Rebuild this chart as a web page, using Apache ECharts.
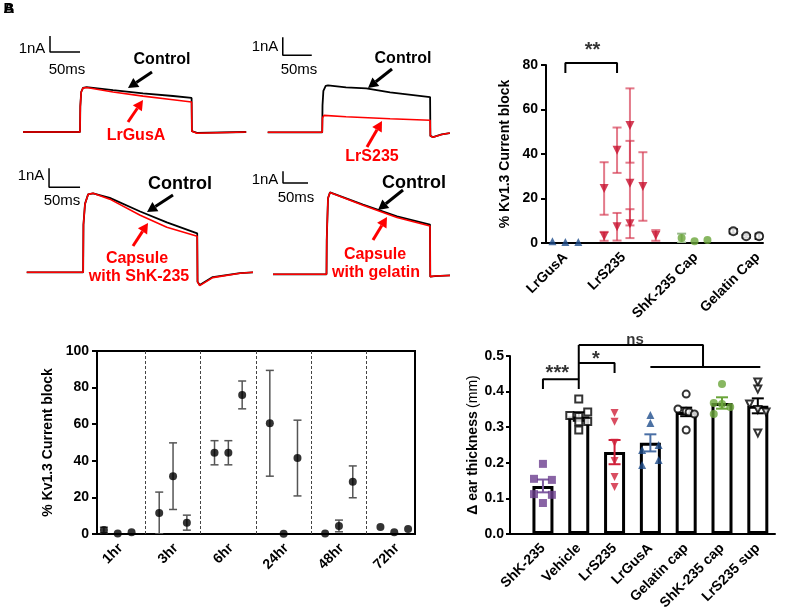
<!DOCTYPE html>
<html><head><meta charset="utf-8">
<script src="https://cdn.jsdelivr.net/npm/echarts@6/dist/echarts.min.js"></script>
<style>html,body{margin:0;padding:0;background:#fff}#c{width:788px;height:609px}</style>
</head><body><div id="c"></div>
<script>
const FONT = "'Liberation Sans', Arial, Helvetica, sans-serif";

// ---------- Panel A: Kv1.3 current traces (time in ms, current in nA) ----------
const traceLrGusA_control = [[0,0],[95,0],[95.5,1.6],[97,2.5],[100,2.76],[106,2.81],[150,2.62],[200,2.42],[250,2.25],[281,2.13],[281.5,0.05],[290,-0.05],[372,0]];
const traceLrGusA_treated = [[0,0],[95,0],[95.5,1.6],[97,2.5],[100,2.74],[106,2.78],[150,2.5],[200,2.24],[250,2.02],[281,1.88],[281.5,0.05],[290,-0.08],[372,0]];
const traceLrS235_control = [[65,0],[159,0],[159.5,1.5],[161,2.3],[165,2.58],[169,2.61],[200,2.5],[235,2.44],[276,2.22],[345,1.96],[345.5,-0.2],[350,-0.27],[365,-0.12],[379,-0.04]];
const traceLrS235_treated = [[65,0],[159,0],[159.5,0.8],[162,0.94],[200,0.86],[276,0.75],[345,0.67],[345.5,-0.2],[350,-0.27],[365,-0.12],[379,-0.04]];
const traceShKCap_control = [[6,0],[97,0],[97.5,2.5],[100,3.6],[105,4.1],[113,4.16],[140,3.92],[189,3.2],[232,2.63],[281,2.05],[281.5,-0.5],[285,-0.67],[306,-0.25],[350,-0.04],[371,0]];
const traceShKCap_treated = [[6,0],[97,0],[97.5,2.5],[100,3.6],[105,4.1],[113,4.16],[140,3.85],[189,3.0],[232,2.37],[281,1.9],[281.5,-0.5],[285,-0.7],[306,-0.28],[350,-0.05],[371,0]];
const traceGelCap_control = [[86,0],[193,0],[193.5,3],[196,6.5],[200,7.0],[266,5.95],[334,4.95],[400,4.25],[400.5,-0.2],[410,-0.15],[440,-0.1]];
const traceGelCap_treated = [[86,0],[193,0],[193.5,3],[196,6.5],[200,7.0],[266,5.9],[334,4.85],[400,4.12],[400.5,-0.2],[410,-0.15],[440,-0.1]];
const scaleBarMs = 50, scaleBarNA = 1;
const scaleBarOrigins = [[45,5.0],[91,4.28],[42,4.47],[106,7.8]];

// ---------- Panel: % Kv1.3 current block per clone ----------
const blockLabels = ['LrGusA','LrS235','ShK-235 Cap','Gelatin Cap'];
const blockLabelPos = [2, 6.5, 12.1, 16.9];
const blockLrGusA_x = [1,2,3];
const blockLrGusA = [0.8,0.4,0.4];
const blockLrS235_x = [5,5,6,6,7,7,7,8,9];
const blockLrS235 = [24.5,3,41.7,7.3,52.8,26.9,8.7,25.4,3.4];
const blockLrS235_err = [11.8,2,10.2,6.2,16.7,19,6.5,15.4,2.4];
const blockShKCap_x = [11,12,13];
const blockShKCap = [2.2,0.8,1.3];
const blockShKCap_err = [2,0,0];
const blockGelCap_x = [15,16,17];
const blockGelCap = [5.3,3,3];
const blockGelCap_err = [1,0.6,1.2];
const blockBracket = [[2,76.4],[2,80.9],[6,80.9],[6,76.4]];
const blockStars = [[4.1,86.5,'**']];

// ---------- Panel: % block over time ----------
const timeLabels = ['1hr','3hr','6hr','24hr','48hr','72hr'];
const timeLabelPos = [2.2,6.2,10.2,14.2,18.2,22.2];
const timeSeparators = [4,8,12,16,20];
const timeX = [1,2,3,5,6,7,9,10,11,13,14,15,17,18,19,21,22,23];
const timeBlock = [2.2,0.3,1,11.5,31.6,6.2,44.4,44.4,76,60.5,0.2,41.5,0.3,4.4,28.5,3.8,0.9,2.7];
const timeErr = [1.5,0,0,11.4,18.2,4.1,6.6,6.6,7.6,28.9,0,20.7,0,3.2,8.7,0,0,0];

// ---------- Panel: ear thickness ----------
const earGroups = ['ShK-235','Vehicle','LrS235','LrGusA','Gelatin cap','ShK-235 cap','LrS235 sup'];
const earMean = [0.135,0.33,0.23,0.256,0.343,0.368,0.36];
const earSem = [0.018,0.012,0.034,0.024,0.012,0.016,0.021];
const earPts = [
  [0.197,0.155,0.152,0.112,0.11,0.087],
  [0.379,0.343,0.333,0.33,0.315,0.316,0.292],
  [0.34,0.315,0.256,0.205,0.16,0.132],
  [0.334,0.312,0.25,0.236,0.208,0.194],
  [0.393,0.351,0.345,0.343,0.337,0.292],
  [0.421,0.368,0.365,0.357,0.337],
  [0.427,0.407,0.365,0.35,0.343,0.284]
];
const earJitter = [
  [0,-0.25,0.25,-0.25,0.25,0],
  [0,0.25,-0.25,0,0,0.25,0],
  [0,0,0,0,0,0],
  [0,0,0.23,-0.23,0.23,-0.23],
  [0,-0.23,0,0.08,0.23,0],
  [0,-0.23,0,0.23,-0.23],
  [0,0,-0.23,0,0.23,0]
];
const earBrackets = [
  [[1,0.407],[1,0.435],[2,0.435],[2,0.407]],
  [[2,0.435],[2,0.531]],
  [[2,0.48],[3,0.48],[3,0.452]],
  [[2,0.531],[5.47,0.531],[5.47,0.469]],
  [[4,0.469],[7.07,0.469]]
];
const earStars = [[1.4,0.452,'***'],[2.48,0.49,'*'],[3.57,0.545,'ns']];

// ---------- layout ----------
const RED = '#ff0000';
const traceBoxes = [
  {left:23, top:30, w:223, h:120, pxMs:0.6, pxNA:16, base:132},
  {left:230, top:30, w:220, h:120, pxMs:0.58, pxNA:18, base:132.3},
  {left:23, top:160, w:230, h:130, pxMs:0.62, pxNA:19, base:272.3},
  {left:230, top:160, w:220, h:130, pxMs:0.5, pxNA:11.7, base:274.3}
];
const traceData = [
  [traceLrGusA_control, traceLrGusA_treated],
  [traceLrS235_control, traceLrS235_treated],
  [traceShKCap_control, traceShKCap_treated],
  [traceGelCap_control, traceGelCap_treated]
];

const grids = [], xAxes = [], yAxes = [], series = [];
traceBoxes.forEach((b, i) => {
  grids.push({left:b.left, top:b.top, width:b.w, height:b.h, outerBoundsMode:'none'});
  const ymin = -(b.top + b.h - b.base) / b.pxNA;
  xAxes.push({gridIndex:i, type:'value', min:0, max:b.w / b.pxMs, show:false});
  yAxes.push({gridIndex:i, type:'value', min:ymin, max:ymin + b.h / b.pxNA, show:false});
  series.push({type:'line', xAxisIndex:i, yAxisIndex:i, data:traceData[i][0], symbol:'none', lineStyle:{color:'#000', width:1.8}, clip:false, z:2});
  series.push({type:'line', xAxisIndex:i, yAxisIndex:i, data:traceData[i][1], symbol:'none', lineStyle:{color:RED, width:1.6}, clip:false, z:3});
  const o = scaleBarOrigins[i];
  series.push({type:'line', xAxisIndex:i, yAxisIndex:i, data:[[o[0],o[1]+scaleBarNA],[o[0],o[1]],[o[0]+scaleBarMs,o[1]]], symbol:'none', lineStyle:{color:'#000', width:1.5}, clip:false});
});

const lblStyle = {fontFamily:FONT, fontWeight:'bold', fontSize:14, color:'#000'};
const axLine = {show:true, onZero:false, lineStyle:{color:'#000', width:2}};

function errRender(cap, color, lw) {
  return function (params, api) {
    const x = api.value(0), lo = api.value(1), hi = api.value(2);
    const p1 = api.coord([x, lo]), p2 = api.coord([x, hi]);
    const h = cap / 2, st = {stroke:color, lineWidth:lw};
    return {type:'group', children:[
      {type:'line', shape:{x1:p1[0], y1:p1[1], x2:p2[0], y2:p2[1]}, style:st},
      {type:'line', shape:{x1:p1[0]-h, y1:p1[1], x2:p1[0]+h, y2:p1[1]}, style:st},
      {type:'line', shape:{x1:p2[0]-h, y1:p2[1], x2:p2[0]+h, y2:p2[1]}, style:st}
    ]};
  };
}
function errData(xs, ms, es) {
  const out = [];
  xs.forEach((x, i) => { if (es[i] > 0) out.push([x, ms[i] - es[i], ms[i] + es[i]]); });
  return out;
}
function zip(xs, ys) { return xs.map((x, i) => [x, ys[i]]); }
function textSeries(ax, data, fs) {
  return {type:'scatter', xAxisIndex:ax, yAxisIndex:ax, data:data, symbolSize:1, clip:false, silent:true,
    itemStyle:{color:'rgba(0,0,0,0)'},
    label:{show:true, position:'inside', formatter:p => p.data[2], fontFamily:FONT, fontWeight:'bold', fontSize:fs, color:'#000'}};
}

// grid 4: block per clone
grids.push({left:546, top:65, width:217, height:178, outerBoundsMode:'none'});
xAxes.push({gridIndex:4, type:'value', min:0.5, max:17.3, axisLine:axLine, axisTick:{show:false}, splitLine:{show:false},
  axisLabel:Object.assign({}, lblStyle, {rotate:45, margin:12, customValues:blockLabelPos, formatter:v => blockLabels[blockLabelPos.indexOf(v)] || ''})});
yAxes.push({gridIndex:4, type:'value', min:0, max:80, interval:20, axisLine:axLine, axisTick:{show:true, length:5, lineStyle:{color:'#000', width:2}},
  splitLine:{show:false}, axisLabel:Object.assign({}, lblStyle, {margin:8}),
  name:'% Kv1.3 Current block', nameLocation:'middle', nameGap:34, nameTextStyle:Object.assign({}, lblStyle)});
series.push({type:'custom', xAxisIndex:4, yAxisIndex:4, renderItem:errRender(9,'rgba(212,50,75,0.65)',2), data:errData(blockLrS235_x, blockLrS235, blockLrS235_err), clip:true, encode:{x:0, y:[1,2]}, z:2});
series.push({type:'custom', xAxisIndex:4, yAxisIndex:4, renderItem:errRender(9,'#98b98a',2), data:errData(blockShKCap_x, blockShKCap, blockShKCap_err), clip:true, encode:{x:0, y:[1,2]}, z:2});
series.push({type:'custom', xAxisIndex:4, yAxisIndex:4, renderItem:errRender(9,'#333',2), data:errData(blockGelCap_x, blockGelCap, blockGelCap_err), clip:true, encode:{x:0, y:[1,2]}, z:2});
series.push({type:'scatter', xAxisIndex:4, yAxisIndex:4, data:zip(blockLrGusA_x, blockLrGusA), symbol:'triangle', symbolSize:8, itemStyle:{color:'#1f4e8c'}, z:4});
series.push({type:'scatter', xAxisIndex:4, yAxisIndex:4, data:zip(blockLrS235_x, blockLrS235), symbol:'triangle', symbolRotate:180, symbolSize:9, itemStyle:{color:'#c8102e'}, z:4});
series.push({type:'scatter', xAxisIndex:4, yAxisIndex:4, data:zip(blockShKCap_x, blockShKCap), symbol:'circle', symbolSize:8, itemStyle:{color:'#6aa539'}, z:4});
series.push({type:'scatter', xAxisIndex:4, yAxisIndex:4, data:zip(blockGelCap_x, blockGelCap), symbol:'circle', symbolSize:8, itemStyle:{color:'#fff', borderColor:'#000', borderWidth:2}, z:4});
series.push({type:'line', xAxisIndex:4, yAxisIndex:4, data:blockBracket, symbol:'none', clip:false, lineStyle:{color:'#000', width:2}});
series.push(textSeries(4, blockStars, 20));

// grid 5: block over time
grids.push({left:97, top:351, width:318, height:183, show:true, borderColor:'#000', borderWidth:2, backgroundColor:'transparent', outerBoundsMode:'none'});
xAxes.push({gridIndex:5, type:'value', min:0.5, max:23.5, axisLine:axLine, axisTick:{show:false}, splitLine:{show:false},
  axisLabel:Object.assign({}, lblStyle, {rotate:45, margin:12, customValues:timeLabelPos, formatter:v => timeLabels[timeLabelPos.indexOf(v)] || ''})});
yAxes.push({gridIndex:5, type:'value', min:0, max:100, interval:20, axisLine:axLine, axisTick:{show:true, length:5, lineStyle:{color:'#000', width:2}},
  splitLine:{show:false}, axisLabel:Object.assign({}, lblStyle, {margin:8}),
  name:'% Kv1.3 Current block', nameLocation:'middle', nameGap:42, nameTextStyle:Object.assign({}, lblStyle)});
series.push({type:'custom', xAxisIndex:5, yAxisIndex:5, renderItem:errRender(8,'#555',1.5), data:errData(timeX, timeBlock, timeErr), clip:true, encode:{x:0, y:[1,2]}, z:2});
series.push({type:'scatter', xAxisIndex:5, yAxisIndex:5, data:zip(timeX, timeBlock), symbol:'circle', symbolSize:8, itemStyle:{color:'#000'}, z:4,
  markLine:{silent:true, symbol:'none', label:{show:false}, lineStyle:{color:'#444', type:[3,2], width:1}, data:timeSeparators.map(v => ({xAxis:v}))}});

// grid 6: ear thickness
grids.push({left:510, top:356, width:265, height:178, outerBoundsMode:'none'});
xAxes.push({gridIndex:6, type:'value', min:0.08, max:7.48, axisLine:axLine, axisTick:{show:false}, splitLine:{show:false},
  axisLabel:Object.assign({}, lblStyle, {rotate:45, margin:12, customValues:[1,2,3,4,5,6,7], formatter:v => earGroups[v-1] || ''})});
yAxes.push({gridIndex:6, type:'value', min:0, max:0.5, interval:0.1, axisLine:axLine, axisTick:{show:true, length:4, lineStyle:{color:'#000', width:2}},
  splitLine:{show:false}, axisLabel:Object.assign({}, lblStyle, {margin:6, formatter:v => v.toFixed(1)}),
  name:'{a|Δ ear thickness} {b|(mm)}', nameLocation:'middle', nameGap:30,
  nameTextStyle:{rich:{a:{fontFamily:FONT, fontWeight:'bold', fontSize:14, color:'#000'}, b:{fontFamily:FONT, fontSize:14, color:'#000'}}}});
series.push({type:'bar', xAxisIndex:6, yAxisIndex:6, data:earMean.map((m, i) => [i+1, m]), barWidth:21,
  itemStyle:{color:'#fff', borderColor:'#000', borderWidth:3}, z:1});
const earColors = ['#6b3d8f','#000','#d0213a','#1f4e8c','#000','#6aa539','#000'];
const earErrColors = ['#7d5aa0','#000','#d0213a','#4a6fa5','#000','#6aa539','#000'];
const earSymbols = ['rect','rect','triangle','triangle','circle','circle','triangle'];
const earFilled = [true,false,true,true,false,true,false];
const earRot = [0,0,180,0,0,0,180];
earGroups.forEach((g, i) => {
  series.push({type:'custom', xAxisIndex:6, yAxisIndex:6, renderItem:errRender(12, earErrColors[i], 2),
    data:[[i+1, earMean[i]-earSem[i], earMean[i]+earSem[i]]], encode:{x:0, y:[1,2]}, z:3});
  series.push({type:'scatter', xAxisIndex:6, yAxisIndex:6, data:earPts[i].map((v, k) => [i+1+earJitter[i][k], v]),
    symbol:earSymbols[i], symbolRotate:earRot[i], symbolSize:earFilled[i] ? 8 : 7,
    itemStyle: earFilled[i] ? {color:earColors[i]} : {color:'#fff', borderColor:'#000', borderWidth:2}, z:4});
});
earBrackets.forEach(b => series.push({type:'line', xAxisIndex:6, yAxisIndex:6, data:b, symbol:'none', clip:false, lineStyle:{color:'#000', width:2}}));
series.push(textSeries(6, earStars.slice(0,2), 20));
series.push(textSeries(6, earStars.slice(2), 15));

// ---------- text annotations and arrows for traces ----------
function txt(x, y, s, size, color, bold) {
  return {type:'text', x:x, y:y, style:{text:s, fill:color, font:(bold ? 'bold ' : '') + size + 'px ' + FONT, textAlign:'center', textVerticalAlign:'middle'}};
}
function arrow(x1, y1, x2, y2, color) {
  const a = Math.atan2(y2-y1, x2-x1), L = 10, W = 5.5;
  const bx = x2 - L*Math.cos(a), by = y2 - L*Math.sin(a);
  return [
    {type:'line', shape:{x1:x1, y1:y1, x2:bx, y2:by}, style:{stroke:color, lineWidth:3}},
    {type:'polygon', shape:{points:[[x2,y2],[bx+W*Math.sin(a), by-W*Math.cos(a)],[bx-W*Math.sin(a), by+W*Math.cos(a)]]}, style:{fill:color}}
  ];
}
const graphics = [
  txt(9, 9, 'A', 15, '#000', true), txt(9, 9, 'B', 15, '#000', true),
  txt(32, 49, '1nA', 15, '#000'), txt(67, 70, '50ms', 15, '#000'),
  txt(162, 60, 'Control', 16, '#000', true), txt(136, 136, 'LrGusA', 16, RED, true),
  txt(265, 47, '1nA', 15, '#000'), txt(299, 70, '50ms', 15, '#000'),
  txt(403, 59, 'Control', 16, '#000', true), txt(372, 157, 'LrS235', 16, RED, true),
  txt(31, 176, '1nA', 15, '#000'), txt(62, 201, '50ms', 15, '#000'),
  txt(180, 184, 'Control', 18, '#000', true), txt(137, 259, 'Capsule', 16, RED, true), txt(139, 277, 'with ShK-235', 16, RED, true),
  txt(265, 180, '1nA', 15, '#000'), txt(296, 198, '50ms', 15, '#000'),
  txt(414, 183, 'Control', 18, '#000', true), txt(375, 255, 'Capsule', 16, RED, true), txt(376, 273, 'with gelatin', 16, RED, true)
].concat(
  arrow(152,72,128,88,'#000'), arrow(128,122,143,100,RED),
  arrow(392,69,368,88,'#000'), arrow(367,147,382,121,RED),
  arrow(173,195,147,212,'#000'), arrow(133,246,148,223,RED),
  arrow(403,190,378,210,'#000'), arrow(373,240,387,217,RED)
);

const chart = echarts.init(document.getElementById('c'), null, {renderer:'canvas'});
chart.setOption({
  animation:false, backgroundColor:'#fff',
  grid:grids, xAxis:xAxes, yAxis:yAxes, series:series, graphic:graphics
});
</script></body></html>
